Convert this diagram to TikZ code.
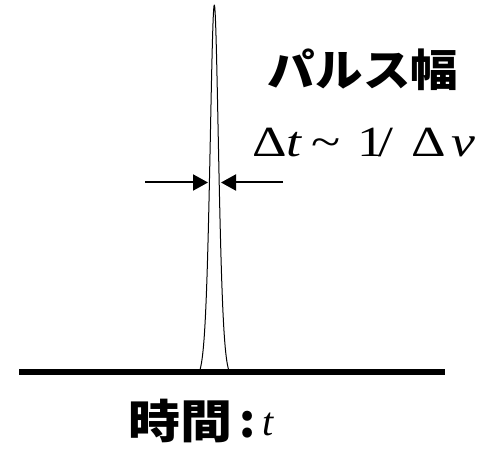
\documentclass[tikz,border=0pt]{standalone}
\usepackage{fontspec}
\usepackage{graphicx}
\setmainfont{Liberation Serif}
\newfontfamily\jp{Noto Sans CJK JP Black}
\usetikzlibrary{arrows.meta}
\tikzset{
  jptext/.style={font=\jp, inner sep=0pt},
  mathtext/.style={font=\fontsize{43}{43}\selectfont, inner sep=0pt, anchor=base west},
  widtharrow/.style={line width=2pt, -{Triangle[length=15pt,width=16pt]}},
  axisline/.style={line width=6pt},
  pulse/.style={line width=1pt, line join=round}
}
\newcommand{\wide}[1]{\scalebox{1.25}[1]{#1}}
\begin{document}
\begin{tikzpicture}[x=1pt, y=-1pt]
\useasboundingbox (0,0) rectangle (490,449);
% axis
\coordinate (axL) at (19,372);
\coordinate (axR) at (445,372);
\draw[axisline] (axL) -- (axR);
% pulse
\draw[pulse] plot[domain=-15:15, samples=301, smooth]
  ({214.3+\x}, {372-367*((1/cosh(\x/5.8))^2-0.0225)/0.9775});
% width arrows
\coordinate (la0) at (145,182.5);
\coordinate (la1) at (208,182.5);
\coordinate (ra0) at (283,182.5);
\coordinate (ra1) at (221,182.5);
\draw[widtharrow] (la0) -- (la1);
\draw[widtharrow] (ra0) -- (ra1);
% labels
\node[jptext, font=\jp\fontsize{44}{44}\selectfont] (title) at (363,69.5) {\scalebox{1.08}[1]{パルス幅}};
\node[mathtext] (d1) at (252,157) {\wide{Δ}};
\node[mathtext] (t1) at (286,157) {\wide{\textit{t}}};
\node[mathtext] (sim) at (311,157) {\wide{\textasciitilde}};
\node[mathtext] (one) at (357,157) {\wide{1}};
\node[mathtext] (sl) at (378,157) {\wide{/}};
\node[mathtext] (d2) at (411,157) {\wide{Δ}};
\node[mathtext] (nu) at (451,157) {\wide{\textit{ν}}};
\node[jptext, font=\jp\fontsize{46}{46}\selectfont] (time) at (180,421) {\scalebox{1.13}[1]{時間}};
\node[jptext, font=\jp\fontsize{46}{46}\selectfont] (colon) at (248,425) {:};
\node[inner sep=0pt, anchor=base west, font=\fontsize{40}{40}\selectfont] (tvar) at (262,435) {\textit{t}};
\end{tikzpicture}
\end{document}
